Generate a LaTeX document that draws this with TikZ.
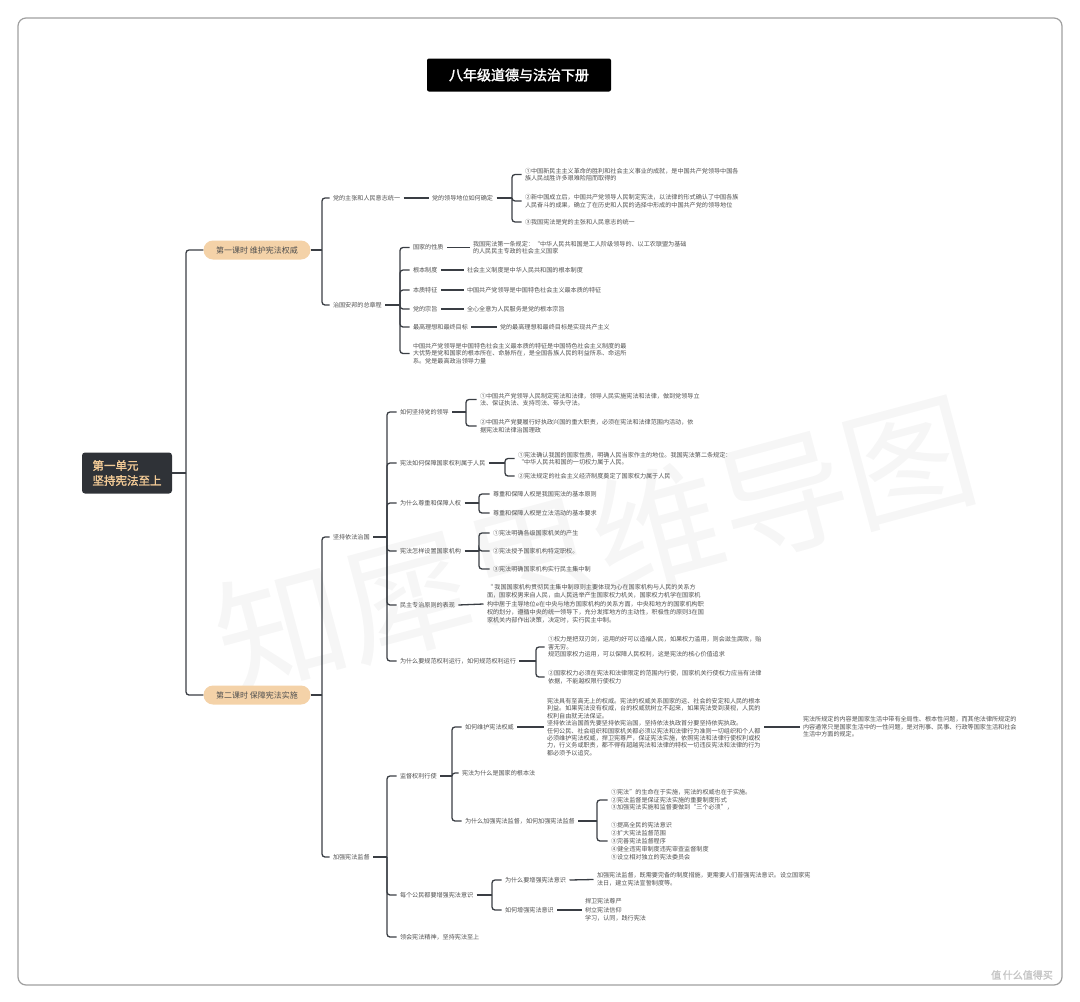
\documentclass[tikz,border=0pt]{standalone}
\usepackage{fontspec}
\setmainfont{Noto Sans CJK SC}[AutoFakeBold=2]
\definecolor{linkc}{HTML}{3A3E44}
\definecolor{txtc}{HTML}{505050}
\definecolor{rootc}{HTML}{2F3237}
\definecolor{rootgold}{HTML}{F2CA96}
\definecolor{pillc}{HTML}{F4D2A8}
\definecolor{wmc}{HTML}{F6F6F6}
\tikzset{
  link/.style={draw=linkc, line width=1.3pt, rounded corners=3pt},
  lab/.style={anchor=west, xshift=-3.5pt, inner sep=0.5pt, outer xsep=3pt, outer ysep=0pt,
    align=left, text=txtc, font=\fontsize{6.1}{7.6}\selectfont},
  lesson/.style={fill=pillc, rounded corners=9.5pt, minimum width=107pt, minimum height=19pt,
    inner sep=0pt, text=txtc, font=\fontsize{8}{9}\selectfont},
  rootbox/.style={fill=rootc, rounded corners=3pt, minimum width=90pt, minimum height=41pt,
    align=left, text=rootgold, font=\fontsize{11.5}{15}\selectfont\bfseries},
  titlebox/.style={fill=black, rounded corners=2pt, minimum width=184pt, minimum height=33pt,
    text=white, font=\fontsize{14}{16}\selectfont\bfseries},
}
\begin{document}
\begin{tikzpicture}[x=1pt, y=-1pt]
  \useasboundingbox (0,0) rectangle (1080,1002);
  \draw[draw=gray!75, line width=1.2pt, rounded corners=8pt] (18,18) rectangle (1062,985);
  % watermarks
  \node[text=wmc, rotate=15, font=\fontsize{130}{135}\selectfont] (wm) at (595,545) {知犀思维导图};
  \node[text=gray!45, font=\fontsize{10}{12}\selectfont\bfseries] (logo) at (1022,975) {值\,什么值得买};

  \node[titlebox] (title) at (519,75) {八年级道德与法治下册};
  \node[rootbox] (root) at (127,473) {第一单元\\坚持宪法至上};
  \node[lesson] (l1) at (257,250) {第一课时 维护宪法权威};
  \node[lesson] (l2) at (257,695) {第二课时 保障宪法实施};
  \coordinate (j0) at (186,473);
  \draw[link] (root.east) -- (j0);
  \foreach \c in {l1,l2} \draw[link] (j0) |- (\c.west);

  % lesson 1
  \node[lab] (a1) at (333,198) {党的主张和人民意志统一};
  \node[lab] (a2) at (333,305) {治国安邦的总章程};
  \coordinate (j1) at (322,250);
  \draw[link] (l1.east) -- (j1);
  \foreach \c in {a1,a2} \draw[link] (j1) |- (\c.west);

  \node[lab] (b1) at (432,198) {党的领导地位如何确定};
  \draw[link] (a1.east) -- (b1.west);
  \node[lab] (c1) at (525,174.5) {①中国新民主主义革命的胜利和社会主义事业的成就，是中国共产党领导中国各\\族人民战胜许多艰难险阻而取得的};
  \node[lab] (c2) at (525,201) {②新中国成立后，中国共产党领导人民制定宪法，以法律的形式确认了中国各族\\人民奋斗的成果，确立了在历史和人民的选择中形成的中国共产党的领导地位};
  \node[lab] (c3) at (525,222) {③我国宪法是党的主张和人民意志的统一};
  \coordinate (jb1) at (512,198);
  \draw[link] (b1.east) -- (jb1);
  \foreach \c in {c1,c2,c3} \draw[link] (jb1) |- (\c.west);

  \node[lab] (d1) at (413,247.5) {国家的性质};
  \node[lab] (d2) at (413,270) {根本制度};
  \node[lab] (d3) at (413,290) {本质特征};
  \node[lab] (d4) at (413,309) {党的宗旨};
  \node[lab] (d5) at (413,327) {最高理想和最终目标};
  \node[lab] (d6) at (413,353.5) {中国共产党领导是中国特色社会主义最本质的特征是中国特色社会主义制度的最\\大优势是党和国家的根本所在、命脉所在，是全国各族人民的利益所系、命运所\\系。党是最高政治领导力量};
  \coordinate (ja2) at (400,305);
  \draw[link] (a2.east) -- (ja2);
  \foreach \c in {d1,d2,d3,d4,d5,d6} \draw[link] (ja2) |- (\c.west);
  \node[lab] (e1) at (473,247.5) {我国宪法第一条规定：“中华人民共和国是工人阶级领导的、以工农联盟为基础\\的人民民主专政的社会主义国家};
  \node[lab] (e2) at (467,270) {社会主义制度是中华人民共和国的根本制度};
  \node[lab] (e3) at (467,290) {中国共产党领导是中国特色社会主义最本质的特征};
  \node[lab] (e4) at (467,309) {全心全意为人民服务是党的根本宗旨};
  \node[lab] (e5) at (500,327) {党的最高理想和最终目标是实现共产主义};
  \foreach \p/\q in {d1/e1,d2/e2,d3/e3,d4/e4,d5/e5} \draw[link] (\p.east) -- (\q.west);

  % lesson 2
  \node[lab] (f1) at (333,537) {坚持依法治国};
  \node[lab] (f2) at (333,857) {加强宪法监督};
  \coordinate (j2) at (322,695);
  \draw[link] (l2.east) -- (j2);
  \foreach \c in {f1,f2} \draw[link] (j2) |- (\c.west);

  \node[lab] (g1) at (400,412) {如何坚持党的领导};
  \node[lab] (g2) at (400,463) {宪法如何保障国家权利属于人民};
  \node[lab] (g3) at (400,503) {为什么尊重和保障人权};
  \node[lab] (g4) at (400,551) {宪法怎样设置国家机构};
  \node[lab] (g5) at (400,605) {民主专治原则的表现};
  \node[lab] (g6) at (400,661) {为什么要规范权利运行，如何规范权利运行};
  \coordinate (jf1) at (387,537);
  \draw[link] (f1.east) -- (jf1);
  \foreach \c in {g1,g2,g3,g4,g5,g6} \draw[link] (jf1) |- (\c.west);

  \node[lab] (h1) at (480,399.5) {①中国共产党领导人民制定宪法和法律，领导人民实施宪法和法律，做到党领导立\\法、保证执法、支持司法、带头守法。};
  \node[lab] (h2) at (480,426) {②中国共产党要履行好执政兴国的重大职责，必须在宪法和法律范围内活动，依\\据宪法和法律治国理政};
  \coordinate (jg1) at (466,412);
  \draw[link] (g1.east) -- (jg1);
  \foreach \c in {h1,h2} \draw[link] (jg1) |- (\c.west);

  \node[lab] (h3) at (518,458.5) {①宪法确认我国的国家性质，明确人民当家作主的地位。我国宪法第二条规定：\\“中华人民共和国的一切权力属于人民。};
  \node[lab] (h4) at (518,476) {②宪法规定的社会主义经济制度奠定了国家权力属于人民};
  \coordinate (jg2) at (505,463);
  \draw[link] (g2.east) -- (jg2);
  \foreach \c in {h3,h4} \draw[link] (jg2) |- (\c.west);

  \node[lab] (h5) at (493,494) {尊重和保障人权是我国宪法的基本原则};
  \node[lab] (h6) at (493,513) {尊重和保障人权是立法活动的基本要求};
  \coordinate (jg3) at (479,503);
  \draw[link] (g3.east) -- (jg3);
  \foreach \c in {h5,h6} \draw[link] (jg3) |- (\c.west);

  \node[lab] (h7) at (493,533) {①宪法明确各级国家机关的产生};
  \node[lab] (h8) at (493,551) {②宪法授予国家机构特定职权。};
  \node[lab] (h9) at (493,569) {③宪法明确国家机构实行民主集中制};
  \coordinate (jg4) at (479,551);
  \draw[link] (g4.east) -- (jg4);
  \foreach \c in {h7,h8,h9} \draw[link] (jg4) |- (\c.west);

  \node[lab, font=\fontsize{6.1}{8.3}\selectfont] (h10) at (487,604) {“ 我国国家机构贯彻民主集中制原则主要体现为心在国家机构与人民的关系方\\面，国家权男来自人民，由人民选举产生国家权力机关，国家权力机学在国家机\\构中居于主导地位e在中央与地方国家机构的关系方面，中央和地方的国家机构职\\权的划分，遵循中央的统一领导下，充分发挥地方的主动性，积极性的原则3在国\\家机关内部作出决策，决定时，实行民主中制。};
  \draw[link] (g5.east) -- (h10.west);

  \node[lab] (h11) at (548,647) {①权力是把双刃剑，运用的好可以造福人民，如果权力滥用，则会滋生腐败，贻\\害无穷。\\规范国家权力运用，可以保障人民权利，这是宪法的核心价值追求};
  \node[lab] (h12) at (548,677) {②国家权力必须在宪法和法律限定的范围内行使，国家机关行使权力应当有法律\\依据，不能越权限行使权力};
  \coordinate (jg6) at (536,661);
  \draw[link] (g6.east) -- (jg6);
  \foreach \c in {h11,h12} \draw[link] (jg6) |- (\c.west);

  \node[lab] (k1) at (400,776) {监督权利行使};
  \node[lab] (k2) at (400,895) {每个公民都要增强宪法意识};
  \node[lab] (k3) at (400,937) {领会宪法精神，坚持宪法至上};
  \coordinate (jf2) at (387,857);
  \draw[link] (f2.east) -- (jf2);
  \foreach \c in {k1,k2,k3} \draw[link] (jf2) |- (\c.west);

  \node[lab] (m1) at (465,727) {如何维护宪法权威};
  \node[lab] (m2) at (462,773) {宪法为什么是国家的根本法};
  \node[lab] (m3) at (465,821) {为什么加强宪法监督，如何加强宪法监督};
  \coordinate (jk1) at (452,776);
  \draw[link] (k1.east) -- (jk1);
  \foreach \c in {m1,m2,m3} \draw[link] (jk1) |- (\c.west);

  \node[lab, font=\fontsize{6.1}{7.4}\selectfont] (n1) at (547,727) {宪法具有至高无上的权威。宪法的权威关系国家的运、社会的安定和人民的根本\\利益。如果宪法没有权威，台的权威就树立不起来，如果宪法受到漠视，人民的\\权利自由就无法保证。\\坚持依法治国首先要坚持依宪治国，坚持依法执政首分要坚持依宪执政。\\任何公民、社会组织和国家机关都必须以宪法和法律行为准则一切组织和个人都\\必须维护宪法权威，捍卫宪尊严，保证宪法实施，依照宪法和法律行使权利或权\\力，行义务或职责，都不得有超越宪法和法律的特权一切违反宪法和法律的行为\\都必须予以追究。};
  \node[lab] (n2) at (803,727) {宪法所规定的内容是国家生活中带有全局性、根本性问题，而其他法律所规定的\\内容通常只是国家生活中的一性问题，是对刑事、民事、行政等国家生活和社会\\生活中方面的规定。};
  \draw[link] (m1.east) -- (n1.west);
  \draw[link] (n1.east) -- (n2.west);

  \node[lab] (p1) at (611,800) {①宪法”的生命在于实施，宪法的权威也在于实施。\\②宪法监督是保证宪法实施的重要制度形式\\③加强宪法实施和监督要做到“三个必须”，};
  \node[lab, font=\fontsize{6.1}{8}\selectfont] (p2) at (611,841) {①提高全民的宪法意识\\②扩大宪法监督范围\\③完善宪法监督程序\\④健全违宪审制度违宪审查监督制度\\⑤设立相对独立的宪法委员会};
  \coordinate (jm3) at (597,821);
  \draw[link] (m3.east) -- (jm3);
  \foreach \c in {p1,p2} \draw[link] (jm3) |- (\c.west);

  \node[lab] (q1) at (505,880) {为什么要增强宪法意识};
  \node[lab] (q2) at (505,910) {如何增强宪法意识};
  \coordinate (jk2) at (492,895);
  \draw[link] (k2.east) -- (jk2);
  \foreach \c in {q1,q2} \draw[link] (jk2) |- (\c.west);
  \node[lab] (r1) at (597,879.5) {加强宪法监督，既需要完备的制度措施，更需要人们普强宪法意识。设立国家宪\\法日，建立宪法宣誓制度等。};
  \node[lab, font=\fontsize{6.1}{8.5}\selectfont] (r2) at (585,910) {捍卫宪法尊严\\树立宪法信仰\\学习，认同，践行宪法};
  \draw[link] (q1.east) -- (r1.west);
  \draw[link] (q2.east) -- (r2.west);
\end{tikzpicture}
\end{document}
